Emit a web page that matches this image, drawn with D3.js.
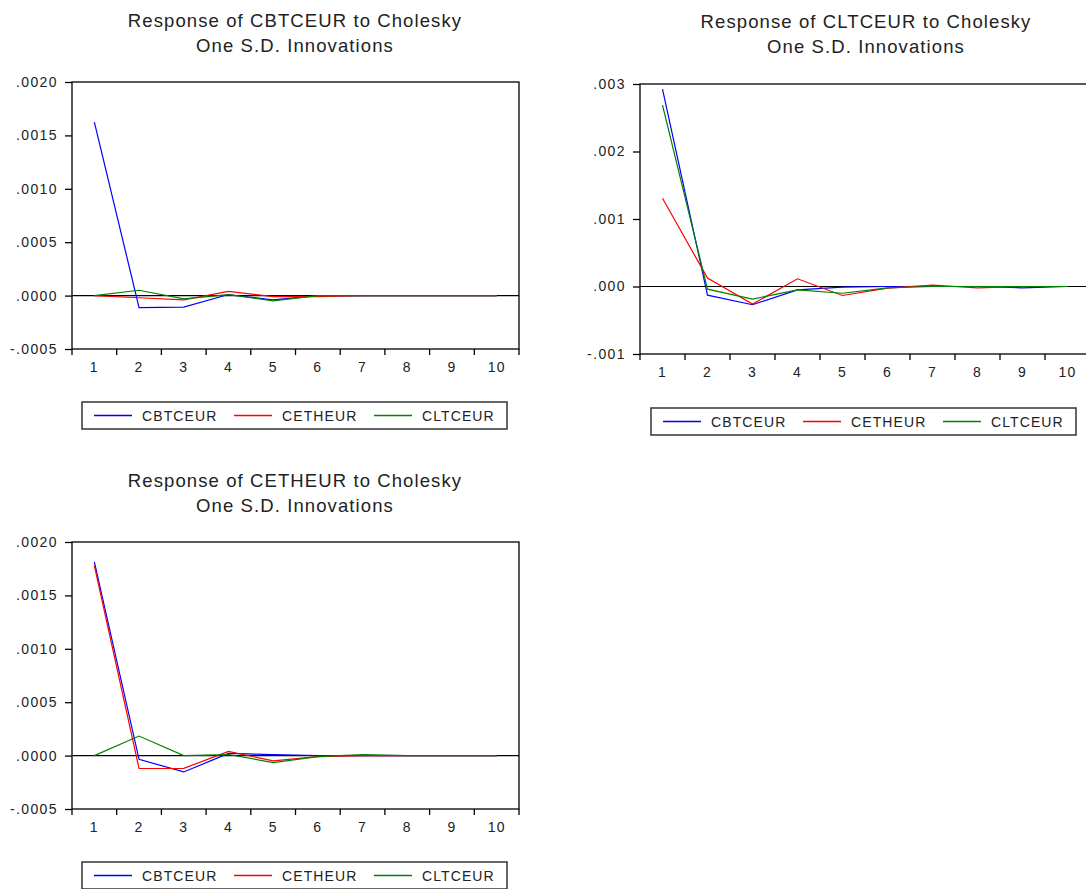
<!DOCTYPE html>
<html>
<head>
<meta charset="utf-8">
<script src="https://cdn.jsdelivr.net/npm/d3@7"></script>
<style>
  body { margin: 0; background: #fff; }
  svg { display: block; font-family: "Liberation Sans", Arial, sans-serif; }
</style>
</head>
<body>
<svg id="chart" width="1086" height="889"></svg>
<script>
// periods and series
const periods = [1, 2, 3, 4, 5, 6, 7, 8, 9, 10];
const seriesNames = ["CBTCEUR", "CETHEUR", "CLTCEUR"];

// response of CBTCEUR
const cbtcToCbtc = [0.001625, -0.000112, -0.000107, 0.00001, -0.00004, 0, 0, 0, 0, 0];
const cbtcToCeth = [0, -0.00002, -0.00004, 0.00004, -0.00001, -0.00001, 0, 0, 0, 0];
const cbtcToCltc = [0, 0.00005, -0.00003, 0.00001, -0.00005, 0, 0, 0, 0, 0];

// response of CLTCEUR
const cltcToCbtc = [0.002925, -0.000128, -0.00027, -0.00005, -0.00001, 0, 0, 0, -0.00002, 0];
const cltcToCeth = [0.001307, 0.000124, -0.00026, 0.000114, -0.000133, -0.000025, 0.00002, -0.00002, 0, 0];
const cltcToCltc = [0.002688, -0.00004, -0.000187, -0.00005, -0.0001, -0.00002, 0, 0, 0, 0];

// response of CETHEUR
const cethToCbtc = [0.001813, -0.000035, -0.000153, 0.00002, 0.00001, 0, 0, 0, 0, 0];
const cethToCeth = [0.00178, -0.000121, -0.00012, 0.00004, -0.00005, -0.00001, 0, 0, 0, 0];
const cethToCltc = [0, 0.000183, 0, 0.00001, -0.000065, -0.00001, 0.00001, 0, 0, 0];

const yTicksSmall = [-0.0005, 0, 0.0005, 0.0010, 0.0015, 0.0020];
const yTicksLarge = [-0.001, 0, 0.001, 0.002, 0.003];

const colors = ["#0000ff", "#ff0000", "#008000"];

const svg = d3.select("#chart");

// eviews style: ".0020", "-.0005"
function fmt(decimals) {
  const f = d3.format("." + decimals + "f");
  return v => f(v).replace("\u2212", "-").replace("0.", ".");
}

function drawPanel(p) {
  const g = svg.append("g");

  // title
  [p.title, "One S.D. Innovations"].forEach((t, i) => {
    g.append("text")
      .attr("x", p.cx).attr("y", p.titleY + i * 25)
      .attr("text-anchor", "middle")
      .style("font-size", "18.5px").style("letter-spacing", "1.1px")
      .attr("fill", "#222")
      .text(t);
  });

  const x = d3.scaleBand().domain(periods).range([p.left, p.right]);
  const y = d3.scaleLinear().domain(p.domain).range([p.bottom, p.top]);

  // frame
  g.append("rect")
    .attr("x", p.left).attr("y", p.top)
    .attr("width", p.right - p.left).attr("height", p.bottom - p.top)
    .attr("fill", "none").attr("stroke", "#000").attr("stroke-width", 1.3);

  // y axis
  const yAxis = d3.axisLeft(y).tickValues(p.ticks).tickFormat(fmt(p.decimals))
    .tickSize(7).tickPadding(7);
  g.append("g").attr("transform", "translate(" + p.left + ",0)")
    .call(yAxis)
    .call(a => a.select(".domain").remove())
    .call(a => a.selectAll("line").attr("stroke-width", 1.3))
    .call(a => a.selectAll("text").style("font-size", "14px").style("letter-spacing", "1.4px")
      .attr("fill", "#222").attr("font-family", null));

  // x axis: ticks at band edges, labels at centers
  const edges = periods.map(d => x(d)).concat([p.right]);
  g.append("g").selectAll("line").data(edges).enter().append("line")
    .attr("x1", d => d).attr("x2", d => d)
    .attr("y1", p.bottom).attr("y2", p.bottom + 6)
    .attr("stroke", "#000").attr("stroke-width", 1.3);
  g.append("g").selectAll("text").data(periods).enter().append("text")
    .attr("x", d => x(d) + x.bandwidth() / 2)
    .attr("y", p.bottom + 23)
    .attr("text-anchor", "middle")
    .style("font-size", "14px").style("letter-spacing", "1.2px")
    .attr("fill", "#222")
    .text(d => d);

  // zero line
  g.append("line")
    .attr("x1", p.left).attr("x2", p.right)
    .attr("y1", y(0)).attr("y2", y(0))
    .attr("stroke", "#000").attr("stroke-width", 1.2);

  const line = d3.line()
    .x((d, i) => x(periods[i]) + x.bandwidth() / 2)
    .y(d => y(d));

  p.series.forEach((s, k) => {
    g.append("path")
      .datum(s)
      .attr("d", line)
      .attr("fill", "none")
      .attr("stroke", colors[k])
      .attr("stroke-width", 1.2);
  });

  // legend
  const lg = g.append("g");
  lg.append("rect")
    .attr("x", p.legX).attr("y", p.legY)
    .attr("width", 425).attr("height", 27)
    .attr("fill", "#fff").attr("stroke", "#333").attr("stroke-width", 1.5);
  seriesNames.forEach((name, k) => {
    const lx = p.legX + 12 + k * 140;
    lg.append("line")
      .attr("x1", lx).attr("x2", lx + 38)
      .attr("y1", p.legY + 13.5).attr("y2", p.legY + 13.5)
      .attr("stroke", colors[k]).attr("stroke-width", 1.3);
    lg.append("text")
      .attr("x", lx + 48).attr("y", p.legY + 18.5)
      .style("font-size", "14px").style("letter-spacing", "1.1px")
      .attr("fill", "#222")
      .text(name);
  });
}

drawPanel({
  title: "Response of CBTCEUR to Cholesky", cx: 295, titleY: 27,
  left: 72, right: 519, top: 82, bottom: 349,
  domain: [-0.0005, 0.0020], ticks: yTicksSmall, decimals: 4,
  series: [cbtcToCbtc, cbtcToCeth, cbtcToCltc],
  legX: 82, legY: 402
});

drawPanel({
  title: "Response of CLTCEUR to Cholesky", cx: 866, titleY: 28,
  left: 640, right: 1090, top: 84, bottom: 354,
  domain: [-0.001, 0.003], ticks: yTicksLarge, decimals: 3,
  series: [cltcToCbtc, cltcToCeth, cltcToCltc],
  legX: 651, legY: 408
});

drawPanel({
  title: "Response of CETHEUR to Cholesky", cx: 295, titleY: 487,
  left: 72, right: 519, top: 542, bottom: 809,
  domain: [-0.0005, 0.0020], ticks: yTicksSmall, decimals: 4,
  series: [cethToCbtc, cethToCeth, cethToCltc],
  legX: 82, legY: 862
});
</script>
</body>
</html>
